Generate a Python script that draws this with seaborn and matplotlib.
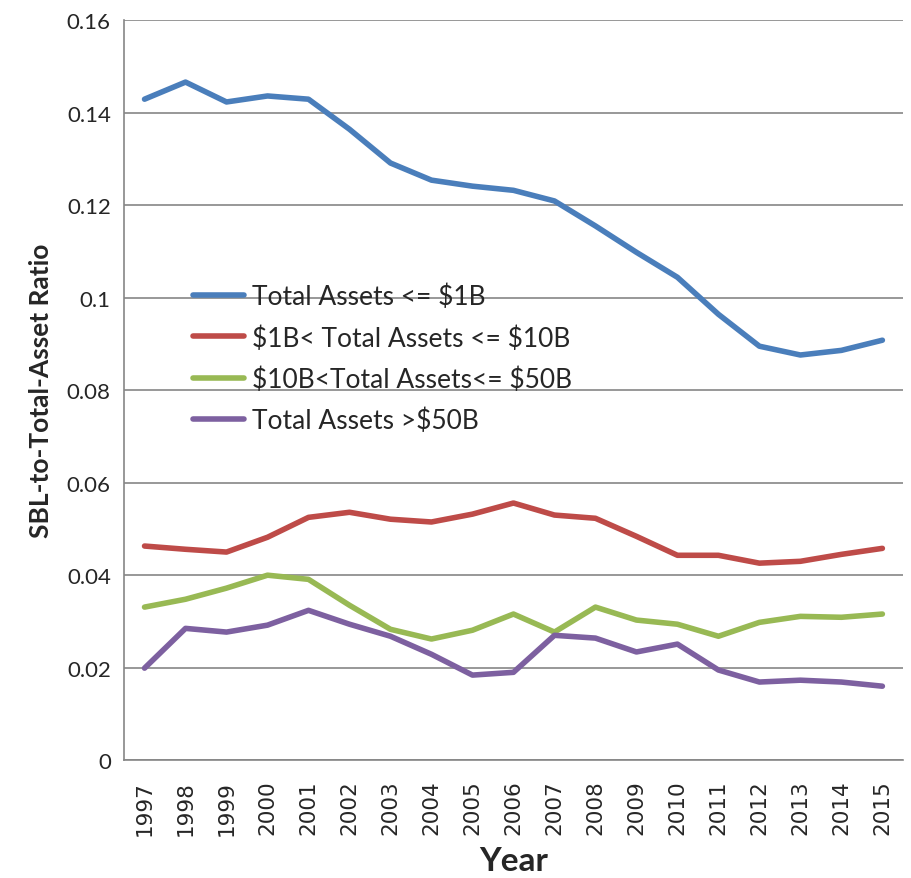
import pandas as pd
import seaborn as sns
import matplotlib.pyplot as plt
from matplotlib.ticker import MultipleLocator

years = list(range(1997, 2016))
le_1b = [0.1429, 0.1466, 0.1423, 0.1436, 0.1429, 0.1364, 0.1291, 0.1254, 0.1241, 0.1232,
         0.1209, 0.1155, 0.1098, 0.1044, 0.0964, 0.0895, 0.0876, 0.0886, 0.0908]
b1_10 = [0.0463, 0.0456, 0.0450, 0.0482, 0.0525, 0.0536, 0.0521, 0.0515, 0.0532, 0.0556,
         0.0530, 0.0523, 0.0484, 0.0443, 0.0443, 0.0426, 0.0430, 0.0445, 0.0458]
b10_50 = [0.0331, 0.0348, 0.0372, 0.0400, 0.0391, 0.0335, 0.0283, 0.0262, 0.0281, 0.0316,
          0.0277, 0.0331, 0.0303, 0.0294, 0.0268, 0.0298, 0.0311, 0.0309, 0.0316]
gt_50b = [0.0199, 0.0285, 0.0277, 0.0292, 0.0324, 0.0294, 0.0268, 0.0229, 0.0184, 0.0190,
          0.0270, 0.0264, 0.0234, 0.0251, 0.0195, 0.0169, 0.0173, 0.0169, 0.0160]
series_names = [r"Total Assets <= \$1B", r"\$1B< Total Assets <= \$10B",
                r"\$10B<Total Assets<= \$50B", r"Total Assets >\$50B"]
colors = ["#4A7EBB", "#BE4B48", "#98B954", "#7D60A0"]

rows = []
for name, vals in zip(series_names, [le_1b, b1_10, b10_50, gt_50b]):
    for y, v in zip(years, vals):
        rows.append({"Year": y, "ratio": v, "series": name})
df = pd.DataFrame(rows)

sns.set_style("white")
plt.rcParams['font.family'] = ['Lato', 'DejaVu Sans']

fig = plt.figure(figsize=(9.12, 8.79), dpi=100)
ax = fig.add_axes([0.136, 0.134, 0.854, 0.842])
sns.lineplot(data=df, x="Year", y="ratio", hue="series", palette=colors,
             hue_order=series_names, linewidth=4, ax=ax)

ax.set_ylim(0, 0.16)
ax.set_xlim(1996.5, 2015.5)
ax.set_yticks([0, 0.02, 0.04, 0.06, 0.08, 0.1, 0.12, 0.14, 0.16])
ax.set_yticklabels(["0", "0.02", "0.04", "0.06", "0.08", "0.1", "0.12", "0.14", "0.16"], fontsize=16)
ax.set_xticks(years)
ax.set_xticklabels([str(y) for y in years], rotation=90, fontsize=15.5, family='DejaVu Sans')
ax.xaxis.set_minor_locator(MultipleLocator(1, offset=0.5))
ax.tick_params(axis='x', which='major', length=0, pad=14)
ax.tick_params(axis='x', which='minor', length=7, color='#868686', width=1.2)
ax.tick_params(axis='y', length=6, color='#868686', width=1.2)
ax.grid(axis='y', color='#868686', linewidth=1.2)
for side in ['top', 'right']:
    ax.spines[side].set_visible(False)
for side in ['left', 'bottom']:
    ax.spines[side].set_color('#868686')
    ax.spines[side].set_linewidth(1.2)

ax.set_xlabel("Year", fontsize=24, fontweight='bold', labelpad=8)
ax.set_ylabel("SBL-to-Total-Asset Ratio", fontsize=19, fontweight='bold', labelpad=10)

ax.legend(loc='upper left', bbox_to_anchor=(0.075, 0.658), frameon=False, fontsize=19,
          handlelength=1.95, labelspacing=0.6, handletextpad=0.3, borderaxespad=0)

plt.savefig("out.png", dpi=100)
